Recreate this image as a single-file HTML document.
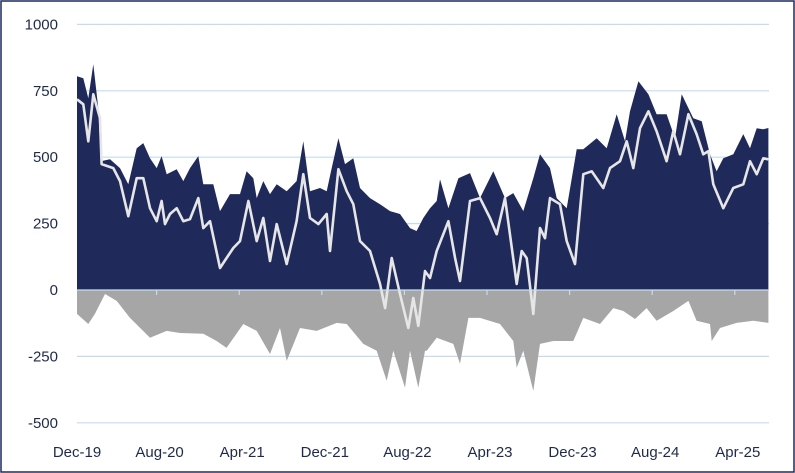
<!DOCTYPE html>
<html><head><meta charset="utf-8"><style>
html,body{margin:0;padding:0;background:#fff;}
svg{display:block;font-family:"Liberation Sans",sans-serif;}
</style></head><body>
<svg id="chart" width="795" height="473" viewBox="0 0 795 473">
<rect x="1" y="1" width="793" height="471" fill="#fff" stroke="#1f2a5a" stroke-width="1.5"/>
<g id="grid"></g>
<g id="yticks"></g>
<g id="series"></g>
<g id="xticks"></g>
</svg>
<script>
const xLabels = ["Dec-19","Aug-20","Apr-21","Dec-21","Aug-22","Apr-23","Dec-23","Aug-24","Apr-25"];
const yTicks = [1000,750,500,250,0,-250,-500];
const topMonths = [0,0.61,1.1,1.58,2.07,2.3,3.2,4.17,4.98,5.79,6.43,7.08,7.73,8.21,8.7,9.67,10.31,10.96,11.77,12.25,13.22,13.87,14.84,15.81,16.45,17.1,17.43,18.07,18.72,19.37,20.34,21.3,21.95,22.6,23.57,24.22,24.7,25.35,25.99,26.8,27.45,28.42,29.39,30.36,31.33,32.3,32.94,33.59,34.24,34.89,35.21,36.02,36.99,38.12,39.09,40.38,41.51,42.32,43.29,44.26,44.91,45.88,46.53,47.5,48.47,49.11,50.41,51.38,52.35,53.15,53.64,54.45,55.42,56.22,57.19,58.0,58.65,59.78,60.59,61.4,62.04,62.69,63.66,64.63,65.28,65.93,66.57,67.06];
const topValues = [805,797,722,850,684,485,492,459,398,534,553,496,459,504,436,455,410,459,504,398,398,297,361,361,447,421,346,410,361,398,372,410,560,372,384,372,459,571,474,496,384,346,323,297,286,233,222,271,308,335,417,308,421,440,346,447,346,365,297,421,511,459,346,308,530,530,571,534,662,560,673,786,737,662,662,571,737,647,635,511,447,496,511,587,534,609,605,610];
const lineMonths = [0,0.61,1.1,1.58,2.23,2.39,3.52,4.17,4.98,5.79,6.43,7.08,7.73,8.21,8.54,9.02,9.67,10.31,10.96,11.77,12.25,12.9,13.87,14.5,15.16,15.81,16.62,17.43,18.07,18.72,19.37,20.34,21.3,21.95,22.6,23.41,24.22,24.54,25.35,26.16,26.8,27.45,28.42,29.39,29.88,30.52,31.33,32.13,32.62,33.1,33.75,34.24,34.89,36.02,36.67,37.15,38.12,39.09,40.06,40.71,41.51,42.65,43.13,43.62,44.26,44.91,45.39,45.88,46.85,47.5,48.3,49.11,49.92,51.05,51.7,52.67,53.32,53.96,54.61,55.42,56.22,57.19,57.84,58.49,59.3,60.1,60.75,61.24,61.72,62.69,63.66,64.63,65.28,65.93,66.57,67.06];
const lineValues = [718,699,560,737,647,474,459,410,278,421,421,308,259,335,248,286,308,259,267,346,233,259,83,120,158,184,335,184,271,109,248,98,259,436,271,248,286,147,455,372,323,184,147,23,-68,120,-15,-143,-30,-135,71,45,147,259,120,34,335,346,271,210,346,23,147,120,-90,233,195,346,323,184,98,436,447,384,459,485,560,459,609,673,598,485,598,511,662,587,511,523,398,308,384,398,485,436,496,492];
const negMonths = [0,1.1,1.74,2.72,3.85,5.14,7.08,8.7,10.0,12.25,13.54,14.5,16.13,17.43,18.72,19.69,20.34,21.63,23.25,25.19,26.16,27.77,29.07,30.04,30.68,31.81,32.3,33.1,33.75,33.92,34.89,36.5,37.15,37.96,39.09,41.03,42.32,42.65,43.29,44.26,44.91,46.2,48.14,49.11,50.73,52.02,52.99,54.12,55.25,56.22,57.84,59.3,60.1,61.4,61.56,62.37,63.98,65.6,67.06];
const negValues = [-90,-128,-90,-15,-41,-105,-180,-154,-162,-165,-192,-218,-128,-154,-241,-143,-267,-143,-154,-124,-128,-203,-229,-342,-229,-368,-229,-368,-229,-229,-180,-203,-278,-105,-105,-128,-192,-293,-229,-380,-203,-192,-192,-105,-128,-68,-79,-109,-68,-116,-79,-41,-116,-128,-192,-143,-124,-116,-124];

const NS = "http://www.w3.org/2000/svg";
const X0 = 77, MPX = 10.31, XEND = 769;
const xScale = m => X0 + m * MPX;
const yScale = v => 290 - v * (66.4 / 250);
function mk(tag, attrs, parent){const e=document.createElementNS(NS,tag);for(const k in attrs)e.setAttribute(k,attrs[k]);parent.appendChild(e);return e;}

const gridG=document.getElementById('grid'), ytG=document.getElementById('yticks'), xtG=document.getElementById('xticks'), sG=document.getElementById('series');
yTicks.forEach(v=>{
  if(v!==0){
    const g=mk('line',{x1:X0,x2:XEND,y1:yScale(v),y2:yScale(v),stroke:'#c5dcf0','stroke-width':1.2},gridG);
    
    
  }
  const t=mk('text',{x:58,y:yScale(v)+5,'text-anchor':'end','font-size':15,fill:'#1f2a4a'},ytG);
  t.textContent=v;
  
  
});

function areaPath(ms, vs){
  const n=Math.min(ms.length,vs.length);
  let d='M'+xScale(ms[0]).toFixed(1)+','+yScale(0);
  for(let i=0;i<n;i++){d+=' L'+xScale(ms[i]).toFixed(1)+','+yScale(vs[i]).toFixed(1);}
  d+=' L'+xScale(ms[n-1]).toFixed(1)+','+yScale(0)+' Z';
  return d;
}
const posArea=mk('path',{d:areaPath(topMonths,topValues),fill:'#1f2a5b'},sG);


const negArea=mk('path',{d:areaPath(negMonths,negValues),fill:'#a6a6a6'},sG);


let ld='';
const ln_n=Math.min(lineMonths.length,lineValues.length);
for(let i=0;i<ln_n;i++){ld+=(i?' L':'M')+xScale(lineMonths[i]).toFixed(1)+','+yScale(lineValues[i]).toFixed(1);}
const netLine=mk('path',{d:ld,fill:'none',stroke:'#e6e6e6','stroke-width':2.6,'stroke-linejoin':'round'},sG);



const zl=mk('line',{x1:X0,x2:XEND,y1:yScale(0),y2:yScale(0),stroke:'#c5dcf0','stroke-width':1.2},xtG);


xLabels.forEach((lab,i)=>{
  const x=X0+i*82.6;
  if(i>0){
    const tk=mk('line',{x1:x-3,x2:x-3,y1:yScale(0),y2:yScale(0)+5,stroke:'#c5dcf0','stroke-width':1.2},xtG);
    
    
  }
  const t=mk('text',{x:x,y:457,'text-anchor':'middle','font-size':15,fill:'#1f2a4a'},xtG);
  t.textContent=lab;
  
  
});
</script>
</body></html>
